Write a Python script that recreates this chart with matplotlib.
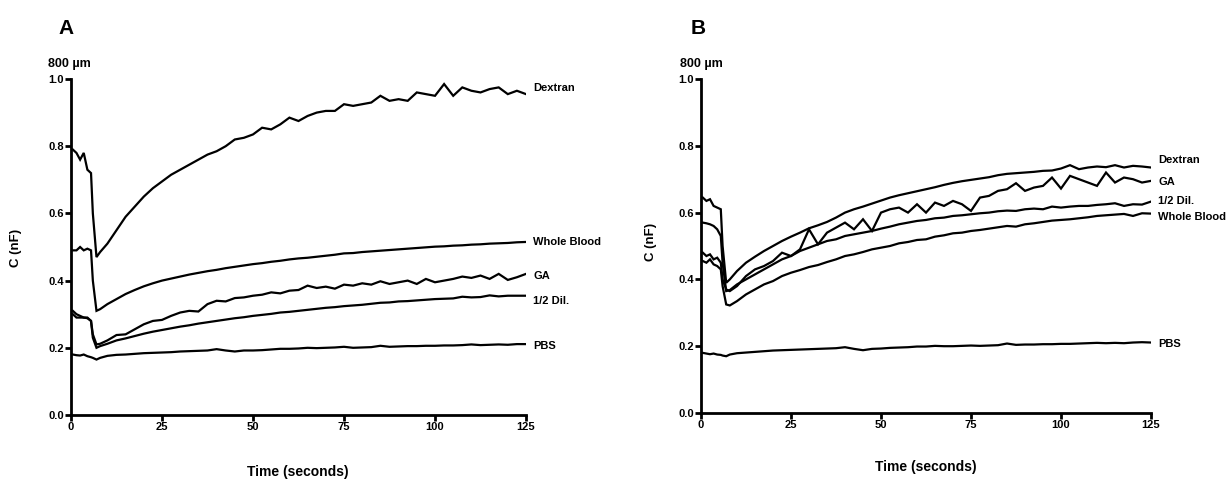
import numpy as np
import matplotlib
matplotlib.use("Agg")
import matplotlib.pyplot as plt

plt.rcParams["font.family"] = ["Liberation Sans", "DejaVu Sans"]
plt.rcParams["font.weight"] = "bold"

# sample times (seconds), shared by every trace
time_s = [0.5, 1.5, 2.5, 3.5, 4.5, 5.5, 6.0, 7.0, 8.0,
          10, 12.5, 15, 17.5, 20, 22.5, 25, 27.5, 30, 32.5, 35, 37.5, 40, 42.5,
          45, 47.5, 50, 52.5, 55, 57.5, 60, 62.5, 65, 67.5, 70, 72.5, 75, 77.5,
          80, 82.5, 85, 87.5, 90, 92.5, 95, 97.5, 100, 102.5, 105, 107.5, 110,
          112.5, 115, 117.5, 120, 122.5, 125]

# ---- panel A ----
dextran_a = [0.79, 0.78, 0.76, 0.78, 0.73, 0.72, 0.60, 0.47, 0.485,
             0.51, 0.55, 0.59, 0.62, 0.65, 0.675, 0.695, 0.715, 0.73, 0.745, 0.76, 0.775, 0.785, 0.80,
             0.82, 0.825, 0.835, 0.855, 0.85, 0.865, 0.885, 0.875, 0.89, 0.90, 0.905, 0.905, 0.925, 0.92,
             0.925, 0.93, 0.95, 0.935, 0.94, 0.935, 0.96, 0.955, 0.95, 0.985, 0.95, 0.975, 0.965,
             0.96, 0.97, 0.975, 0.955, 0.965, 0.955]
blood_a = [0.49, 0.49, 0.50, 0.49, 0.495, 0.49, 0.40, 0.31, 0.315,
           0.33, 0.345, 0.36, 0.372, 0.383, 0.392, 0.40, 0.406, 0.412, 0.418, 0.423, 0.428, 0.432, 0.437,
           0.441, 0.445, 0.449, 0.452, 0.456, 0.459, 0.463, 0.466, 0.468, 0.471, 0.474, 0.477, 0.481, 0.482,
           0.485, 0.487, 0.489, 0.491, 0.493, 0.495, 0.497, 0.499, 0.501, 0.502, 0.504, 0.505, 0.507,
           0.508, 0.510, 0.511, 0.512, 0.514, 0.515]
ga_a = [0.31, 0.30, 0.295, 0.29, 0.29, 0.28, 0.24, 0.21, 0.212,
        0.222, 0.238, 0.24, 0.255, 0.27, 0.28, 0.283, 0.295, 0.305, 0.31, 0.308, 0.33, 0.34, 0.338,
        0.348, 0.35, 0.355, 0.358, 0.365, 0.362, 0.37, 0.372, 0.385, 0.378, 0.382, 0.376, 0.388, 0.385,
        0.392, 0.388, 0.398, 0.39, 0.395, 0.40, 0.39, 0.405, 0.395, 0.40, 0.405, 0.412, 0.408,
        0.415, 0.405, 0.42, 0.402, 0.41, 0.42]
dil_a = [0.30, 0.29, 0.29, 0.29, 0.288, 0.28, 0.23, 0.20, 0.205,
         0.212, 0.222, 0.228, 0.235, 0.242, 0.248, 0.253, 0.258, 0.263, 0.267, 0.272, 0.276, 0.280, 0.284,
         0.288, 0.291, 0.295, 0.298, 0.301, 0.305, 0.307, 0.31, 0.313, 0.316, 0.319, 0.321, 0.324, 0.326,
         0.328, 0.331, 0.334, 0.335, 0.338, 0.339, 0.341, 0.343, 0.345, 0.346, 0.347, 0.352, 0.350,
         0.351, 0.356, 0.353, 0.355, 0.355, 0.355]
pbs_a = [0.18, 0.178, 0.177, 0.18, 0.175, 0.172, 0.17, 0.165, 0.17,
         0.176, 0.179, 0.18, 0.182, 0.184, 0.185, 0.186, 0.187, 0.189, 0.190, 0.191, 0.192, 0.196, 0.192,
         0.189, 0.192, 0.192, 0.193, 0.195, 0.197, 0.197, 0.198, 0.200, 0.199, 0.200, 0.201, 0.203, 0.200,
         0.201, 0.202, 0.206, 0.203, 0.204, 0.205, 0.205, 0.206, 0.206, 0.207, 0.207, 0.208, 0.210,
         0.208, 0.209, 0.210, 0.209, 0.211, 0.211]

# ---- panel B ----
dextran_b = [0.645, 0.635, 0.64, 0.62, 0.615, 0.61, 0.50, 0.39, 0.40,
             0.425, 0.45, 0.468, 0.485, 0.50, 0.515, 0.528, 0.54, 0.553, 0.562, 0.572, 0.585, 0.600, 0.61,
             0.618, 0.627, 0.636, 0.645, 0.652, 0.658, 0.664, 0.67, 0.676, 0.683, 0.689, 0.694, 0.698, 0.702,
             0.706, 0.712, 0.716, 0.718, 0.72, 0.722, 0.725, 0.726, 0.732, 0.742, 0.73, 0.735, 0.738,
             0.736, 0.742, 0.735, 0.74, 0.738, 0.735]
ga_b = [0.48, 0.47, 0.475, 0.46, 0.465, 0.45, 0.40, 0.37, 0.365,
        0.38, 0.41, 0.43, 0.44, 0.455, 0.48, 0.47, 0.49, 0.55, 0.505, 0.54, 0.555, 0.57, 0.55,
        0.58, 0.545, 0.60, 0.61, 0.615, 0.60, 0.625, 0.60, 0.63, 0.62, 0.635, 0.625, 0.605, 0.645,
        0.65, 0.665, 0.67, 0.688, 0.665, 0.675, 0.68, 0.705, 0.672, 0.71, 0.70, 0.69, 0.68,
        0.72, 0.69, 0.705, 0.70, 0.69, 0.695]
dil_b = [0.57, 0.568, 0.565, 0.56, 0.55, 0.53, 0.45, 0.365, 0.368,
         0.385, 0.40, 0.415, 0.43, 0.445, 0.46, 0.47, 0.485, 0.495, 0.505, 0.515, 0.52, 0.53, 0.535,
         0.54, 0.545, 0.552, 0.558, 0.565, 0.57, 0.575, 0.578, 0.583, 0.585, 0.59, 0.592, 0.595, 0.598,
         0.60, 0.604, 0.606, 0.605, 0.61, 0.612, 0.61, 0.618, 0.615, 0.618, 0.62, 0.62, 0.623,
         0.625, 0.628, 0.62, 0.625, 0.624, 0.633]
blood_b = [0.455, 0.45, 0.46, 0.445, 0.44, 0.43, 0.38, 0.325, 0.322,
           0.335, 0.355, 0.37, 0.385, 0.395, 0.41, 0.42, 0.428, 0.437, 0.443, 0.452, 0.46, 0.47, 0.475,
           0.482, 0.49, 0.495, 0.50, 0.508, 0.512, 0.518, 0.52, 0.528, 0.532, 0.538, 0.54, 0.545, 0.548,
           0.552, 0.556, 0.56, 0.558, 0.565, 0.568, 0.572, 0.576, 0.578, 0.58, 0.583, 0.586, 0.59,
           0.592, 0.594, 0.596, 0.59, 0.598, 0.597]
pbs_b = [0.18, 0.178, 0.176, 0.178, 0.175, 0.174, 0.172, 0.170, 0.175,
         0.179, 0.181, 0.183, 0.185, 0.187, 0.188, 0.189, 0.190, 0.191, 0.192, 0.193, 0.194, 0.197, 0.192,
         0.188, 0.192, 0.193, 0.195, 0.196, 0.197, 0.199, 0.199, 0.201, 0.200, 0.200, 0.201, 0.202, 0.201,
         0.202, 0.203, 0.208, 0.204, 0.205, 0.205, 0.206, 0.206, 0.207, 0.207, 0.208, 0.209, 0.210,
         0.209, 0.210, 0.209, 0.211, 0.212, 0.211]

# end-of-line labels: (name, y position of text)
labels_a = [("Dextran", 0.972), ("Whole Blood", 0.516), ("GA", 0.415),
            ("1/2 Dil.", 0.34), ("PBS", 0.204)]
labels_b = [("Dextran", 0.757), ("GA", 0.692), ("1/2 Dil.", 0.634),
            ("Whole Blood", 0.587), ("PBS", 0.206)]

x_ticks = [0, 25, 50, 75, 100, 125]
y_ticks = [0.0, 0.2, 0.4, 0.6, 0.8, 1.0]

W, H = 1232, 479


def style_axes(ax):
    ax.set_xlim(0, 125)
    ax.set_ylim(0, 1.0)
    ax.set_xticks(x_ticks)
    ax.set_yticks(y_ticks)
    ax.set_yticklabels([f"{v:.1f}" for v in y_ticks])
    for side in ("top", "right"):
        ax.spines[side].set_visible(False)
    for side in ("left", "bottom"):
        ax.spines[side].set_linewidth(2.0)
    ax.tick_params(direction="out", length=4, width=2, labelsize=8, pad=1)
    for lab in ax.get_xticklabels() + ax.get_yticklabels():
        lab.set_fontweight("bold")


def draw_panel(ax, series, labels):
    for y in series:
        ax.plot(time_s, y, color="black", lw=1.6, solid_joinstyle="miter")
    for name, yv in labels:
        ax.text(127, yv, name, fontsize=8, fontweight="bold", va="center",
                ha="left", clip_on=False)
    style_axes(ax)


fig = plt.figure(figsize=(W / 100, H / 100), dpi=100)
ax_a = fig.add_axes([71 / W, 1 - 415 / H, 455 / W, 336 / H])
ax_b = fig.add_axes([701 / W, 1 - 413 / H, 450 / W, 334 / H])

draw_panel(ax_a, [dextran_a, blood_a, ga_a, dil_a, pbs_a], labels_a)
draw_panel(ax_b, [dextran_b, ga_b, dil_b, blood_b, pbs_b], labels_b)

# panel letters, units, axis titles
for px, letter in [(66, "A"), (698, "B")]:
    fig.text(px / W, 1 - 28 / H, letter, fontsize=15, fontweight="bold",
             ha="center", va="center")
for px in (69, 701):
    fig.text(px / W, 1 - 64 / H, "800 \u00b5m", fontsize=9, fontweight="bold",
             ha="center", va="center")
for px, py in [(16, 248), (651, 242)]:
    fig.text(px / W, 1 - py / H, "C (nF)", fontsize=9.5, fontweight="bold",
             rotation=90, ha="center", va="center")
for px, py in [(298, 472), (926, 467)]:
    fig.text(px / W, 1 - py / H, "Time (seconds)", fontsize=10,
             fontweight="bold", ha="center", va="center")

fig.savefig("out.png", dpi=100)
